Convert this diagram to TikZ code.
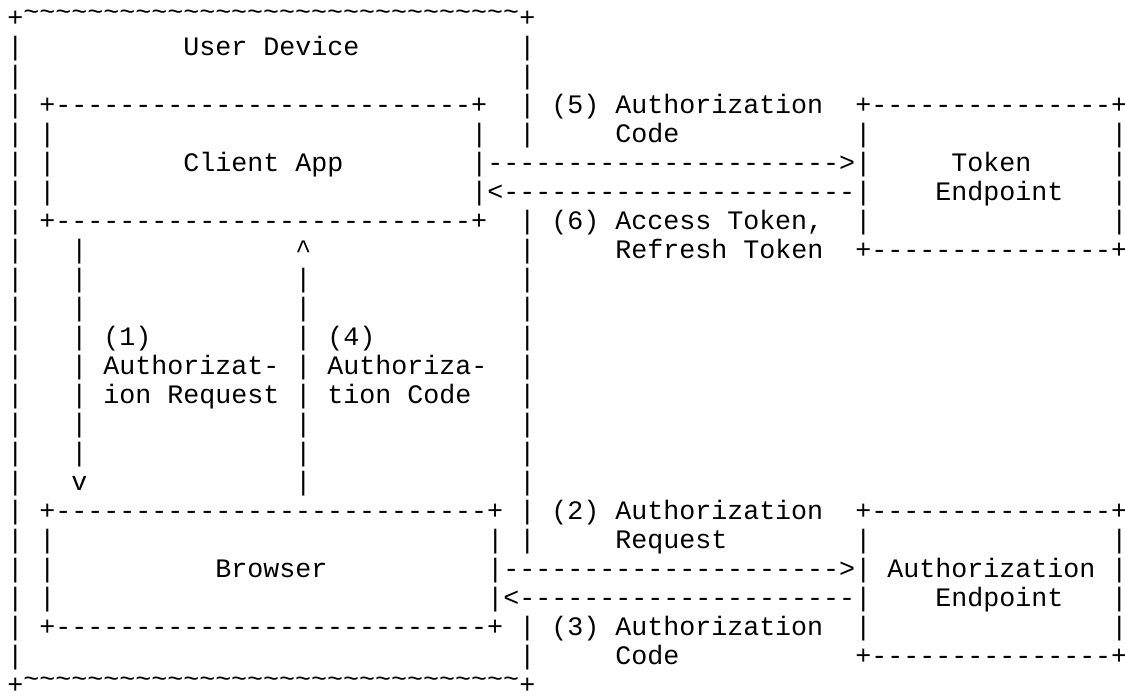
\documentclass[tikz,border=0pt]{standalone}
\usepackage{fontspec}
\setmonofont{Liberation Mono}

\tikzset{
  ascii/.style={font=\ttfamily\fontsize{13.33pt}{14.5pt}\selectfont,
    anchor=base west, inner sep=0pt, outer sep=0pt},
}
% #1 copies of the character #2
\newcommand{\asciirun}[2]{\foreach\cnt in {1,...,#1}{#2}}
\newcommand{\hitilde}{\raisebox{3pt}{\textasciitilde}}

\begin{document}
\begin{tikzpicture}[x=8pt, y=-14.5pt]
  \useasboundingbox (-3.65pt,13pt) rectangle (558.85pt,-336pt);

  % user device
  \node[ascii] (dev-top) at (0,0) {+\asciirun{31}{\hitilde}+};
  \node[ascii] (dev-bot) at (0,23) {+\asciirun{31}{\hitilde}+};
  \foreach \r in {1,...,22}
    \node[ascii] (dev-l\r) at (0,\r) {|};
  \foreach \r in {1,2,3,4,7,8,...,18,21,22}
    \node[ascii] (dev-r\r) at (32,\r) {|};
  \node[ascii] (device) at (11,1) {User Device};

  % client app
  \node[ascii] (app-top) at (2,3) {+\asciirun{26}{-}+};
  \node[ascii] (app-bot) at (2,7) {+\asciirun{26}{-}+};
  \foreach \r in {4,5,6} {
    \node[ascii] (app-l\r) at (2,\r) {|};
    \node[ascii] (app-r\r) at (29,\r) {|};
  }
  \node[ascii] (app) at (11,5) {Client App};

  % browser
  \node[ascii] (br-top) at (2,17) {+\asciirun{27}{-}+};
  \node[ascii] (br-bot) at (2,21) {+\asciirun{27}{-}+};
  \foreach \r in {18,19,20} {
    \node[ascii] (br-l\r) at (2,\r) {|};
    \node[ascii] (br-r\r) at (30,\r) {|};
  }
  \node[ascii] (browser) at (13,19) {Browser};

  % token endpoint
  \node[ascii] (tok-top) at (53,3) {+\asciirun{15}{-}+};
  \node[ascii] (tok-bot) at (53,8) {+\asciirun{15}{-}+};
  \foreach \r in {4,...,7} {
    \node[ascii] (tok-l\r) at (53,\r) {|};
    \node[ascii] (tok-r\r) at (69,\r) {|};
  }
  \node[ascii] (token) at (59,5) {Token};
  \node[ascii] (token2) at (58,6) {Endpoint};

  % authorization endpoint
  \node[ascii] (auth-top) at (53,17) {+\asciirun{15}{-}+};
  \node[ascii] (auth-bot) at (53,22) {+\asciirun{15}{-}+};
  \foreach \r in {18,...,21} {
    \node[ascii] (auth-l\r) at (53,\r) {|};
    \node[ascii] (auth-r\r) at (69,\r) {|};
  }
  \node[ascii] (auth) at (55,19) {Authorization};
  \node[ascii] (auth2) at (58,20) {Endpoint};

  % arrows across
  \node[ascii] (code-to-tok) at (30,5) {\asciirun{22}{-}>};
  \node[ascii] (tok-to-app) at (30,6) {<\asciirun{22}{-}};
  \node[ascii] (req-to-auth) at (31,19) {\asciirun{21}{-}>};
  \node[ascii] (auth-to-br) at (31,20) {<\asciirun{21}{-}};

  % arrows down and up
  \foreach \r in {8,...,15}
    \node[ascii] (req-\r) at (4,\r) {|};
  \node[ascii] (req-tip) at (4,16) {v};
  \node[ascii] (code-tip) at (18,8) {\textasciicircum};
  \foreach \r in {9,...,16}
    \node[ascii] (code-\r) at (18,\r) {|};

  % step labels
  \node[ascii] (l5) at (34,3) {(5) Authorization};
  \node[ascii] (l5b) at (38,4) {Code};
  \node[ascii] (l6) at (34,7) {(6) Access Token,};
  \node[ascii] (l6b) at (38,8) {Refresh Token};
  \node[ascii] (l1) at (6,11) {(1)};
  \node[ascii] (l1b) at (6,12) {Authorizat-};
  \node[ascii] (l1c) at (6,13) {ion Request};
  \node[ascii] (l4) at (20,11) {(4)};
  \node[ascii] (l4b) at (20,12) {Authoriza-};
  \node[ascii] (l4c) at (20,13) {tion Code};
  \node[ascii] (l2) at (34,17) {(2) Authorization};
  \node[ascii] (l2b) at (38,18) {Request};
  \node[ascii] (l3) at (34,21) {(3) Authorization};
  \node[ascii] (l3b) at (38,22) {Code};
\end{tikzpicture}
\end{document}
